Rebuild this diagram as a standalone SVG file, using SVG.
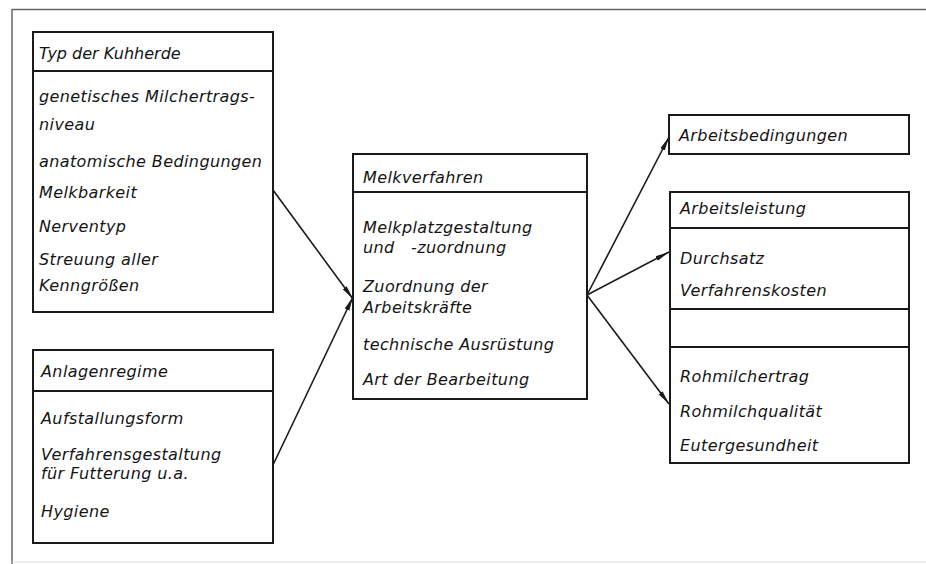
<svg xmlns="http://www.w3.org/2000/svg" width="926" height="564" viewBox="0 0 926 564">
<style>
  .box { fill: #fff; stroke: #1a1a1a; stroke-width: 2; }
  .div { stroke: #1a1a1a; stroke-width: 2; }
  .t { font-family: "DejaVu Sans", "Liberation Sans", sans-serif; font-style: italic; font-size: 16px; letter-spacing: 0.4px; fill: #141414; }
  .h { letter-spacing: 0px; }
  .con { stroke: #1a1a1a; stroke-width: 1.6; fill: none; marker-end: url(#ah); }
  .frame { stroke: #666; stroke-width: 1.5; fill: none; }
</style>
<defs>
  <marker id="ah" markerUnits="userSpaceOnUse" markerWidth="15" markerHeight="8" refX="14" refY="3.5" orient="auto">
    <path d="M0,1 L14,3.5 L0,6 z" fill="#1a1a1a"/>
  </marker>
</defs>
<rect width="926" height="564" fill="#fff"/>
<g id="frame">
  <line class="frame" x1="12" y1="9.5" x2="926" y2="9.5"/>
  <line class="frame" x1="12" y1="9" x2="12" y2="564"/>
  <line x1="12" y1="562" x2="926" y2="562" stroke="#ddd" stroke-width="1"/>
</g>
<g id="connectors">
  <line class="con" x1="273" y1="190" x2="353" y2="299"/>
  <line class="con" x1="273" y1="465" x2="353" y2="297"/>
  <line class="con" x1="587" y1="295" x2="669" y2="137"/>
  <line class="con" x1="587" y1="295" x2="669" y2="252"/>
  <line class="con" x1="587" y1="295" x2="669" y2="404"/>
</g>
<g id="typ-der-kuhherde">
  <rect class="box" x="33" y="32" width="240" height="280"/>
  <line class="div" x1="33" y1="71" x2="273" y2="71"/>
  <text class="t h" x="39" y="59">Typ der Kuhherde</text>
  <text class="t" x="39" y="102">genetisches Milchertrags-</text>
  <text class="t" x="39" y="130">niveau</text>
  <text class="t" x="39" y="167">anatomische Bedingungen</text>
  <text class="t" x="39" y="198">Melkbarkeit</text>
  <text class="t" x="39" y="232">Nerventyp</text>
  <text class="t" x="39" y="265">Streuung aller</text>
  <text class="t" x="39" y="291">Kenngrößen</text>
</g>
<g id="anlagenregime">
  <rect class="box" x="33" y="350" width="240" height="193"/>
  <line class="div" x1="33" y1="391" x2="273" y2="391"/>
  <text class="t" x="41" y="377">Anlagenregime</text>
  <text class="t" x="41" y="424">Aufstallungsform</text>
  <text class="t" x="41" y="460">Verfahrensgestaltung</text>
  <text class="t" x="41" y="479">für Futterung u.a.</text>
  <text class="t" x="41" y="517">Hygiene</text>
</g>
<g id="melkverfahren">
  <rect class="box" x="353" y="154" width="234" height="245"/>
  <line class="div" x1="353" y1="192" x2="587" y2="192"/>
  <text class="t" x="363" y="183">Melkverfahren</text>
  <text class="t" x="363" y="233">Melkplatzgestaltung</text>
  <text class="t" x="363" y="253" xml:space="preserve">und   -zuordnung</text>
  <text class="t" x="363" y="292">Zuordnung der</text>
  <text class="t" x="363" y="313">Arbeitskräfte</text>
  <text class="t" x="363" y="350">technische Ausrüstung</text>
  <text class="t" x="363" y="385">Art der Bearbeitung</text>
</g>
<g id="arbeitsbedingungen">
  <rect class="box" x="669" y="115" width="240" height="39"/>
  <text class="t" x="679" y="141">Arbeitsbedingungen</text>
</g>
<g id="arbeitsleistung">
  <rect class="box" x="670" y="192" width="239" height="117"/>
  <line class="div" x1="670" y1="228" x2="909" y2="228"/>
  <text class="t" x="680" y="214">Arbeitsleistung</text>
  <text class="t" x="680" y="264">Durchsatz</text>
  <text class="t" x="680" y="296">Verfahrenskosten</text>
</g>
<g id="rohmilch">
  <rect class="box" x="670" y="309" width="239" height="154"/>
  <line class="div" x1="670" y1="347" x2="909" y2="347"/>
  <text class="t" x="680" y="382">Rohmilchertrag</text>
  <text class="t" x="680" y="417">Rohmilchqualität</text>
  <text class="t" x="680" y="451">Eutergesundheit</text>
</g>
</svg>
